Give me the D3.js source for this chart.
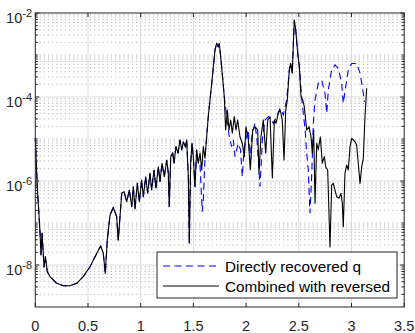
<!DOCTYPE html>
<html><head><meta charset="utf-8">
<script src="https://cdn.jsdelivr.net/npm/d3@7"></script>
<style>body{margin:0;background:#fff} svg{display:block}</style>
</head><body><svg id="c" width="415" height="333"></svg>
<script>
// ---- data ----
const xTicks = [0, 0.5, 1, 1.5, 2, 2.5, 3, 3.5];
const xTickLabels = ["0", "0.5", "1", "1.5", "2", "2.5", "3", "3.5"];
const yLabelExps = [-8, -6, -4, -2];
const seriesNames = ["Directly recovered q", "Combined with reversed"];

const combinedX = [
 0,0.019,0.045,0.054,0.064,0.083,0.095,0.114,0.139,0.203,
 0.266,0.329,0.393,0.455,0.519,0.583,0.620,0.645,0.664,0.683,
 0.709,0.740,0.772,0.787,0.820,0.842,0.867,0.892,0.915,0.930,
 0.946,0.968,0.987,1.009,1.025,1.047,1.066,1.088,1.104,1.126,
 1.145,1.167,1.183,1.202,1.224,1.247,1.262,1.271,1.285,1.304,
 1.316,1.335,1.354,1.373,1.389,1.404,1.423,1.436,1.452,1.461,
 1.474,1.487,1.499,1.515,1.531,1.546,1.563,1.579,1.594,1.610,
 1.641,1.674,1.705,1.721,1.736,1.746,1.768,1.793,1.806,1.822,
 1.838,1.854,1.869,1.888,1.904,1.920,1.942,1.964,1.983,1.999,
 2.021,2.040,2.063,2.084,2.110,2.122,2.141,2.163,2.186,2.205,
 2.227,2.249,2.268,2.284,2.305,2.324,2.343,2.360,2.376,2.391,
 2.410,2.423,2.438,2.457,2.471,2.490,2.505,2.521,2.537,2.552,
 2.575,2.597,2.616,2.628,2.641,2.654,2.670,2.685,2.704,2.723,
 2.742,2.755,2.774,2.796,2.812,2.827,2.860,2.881,2.900,2.913,
 2.922,2.938,2.954,2.970,2.986,3.002,3.033,3.049,3.064,3.081,
 3.097,3.112,3.128,3.144];
const combinedQ = [
 1.06e-5,7.3e-7,5.8e-8,1.73e-8,5.8e-8,8.9e-9,1.58e-8,6.9e-9,5.3e-9,3.66e-9,
 3.21e-9,3.21e-9,3.66e-9,5.3e-9,9.1e-9,1.9e-8,2.83e-8,1.9e-8,6.3e-9,3.9e-8,
 1.55e-7,2.34e-7,1.41e-7,3.9e-8,5.1e-7,5.6e-7,3.2e-7,6.1e-7,2.44e-7,7.3e-7,
 2.15e-7,8.8e-7,3.2e-7,1.06e-6,4.2e-7,1.26e-6,5.1e-7,1.52e-6,6.1e-7,1.83e-6,
 6.7e-7,2.19e-6,9.6e-7,2.64e-6,1.26e-6,3.16e-6,1.52e-6,2.44e-7,3.8e-6,4.6e-6,
 2.64e-6,6.6e-6,4.6e-6,9.5e-6,5.5e-6,8.6e-6,6.6e-6,9.5e-6,1.26e-6,3.3e-8,
 2.64e-6,7.9e-6,3.8e-6,7.3e-7,5.5e-6,2.64e-6,4.6e-6,1.83e-6,6.6e-6,3.47e-6,
 3.4e-5,2.12e-4,1.32e-3,1.9e-3,1.58e-3,1.9e-3,5.3e-4,1.02e-4,1.64e-5,4.9e-5,
 1.64e-5,2.83e-5,1.37e-5,3.4e-5,1.64e-5,2.83e-5,1.13e-5,7.9e-6,3.8e-6,1.96e-5,
 9.5e-6,1.83e-6,1.64e-5,1.96e-5,1.64e-5,1.52e-6,1.13e-5,2.83e-5,4.6e-6,2.83e-5,
 3.4e-5,1.18e-6,2.83e-5,2.37e-5,4.1e-5,4.9e-5,2.83e-5,3.16e-6,4.9e-5,8.5e-5,
 4.4e-4,6.3e-4,3.67e-4,6.8e-3,3.94e-3,1.1e-3,5.3e-4,1.02e-4,8.5e-5,5.9e-5,
 1.64e-5,1.96e-5,1.13e-5,4.6e-6,1.64e-5,2.94e-7,7.9e-6,5.5e-6,1.13e-5,2.64e-6,
 3.8e-6,2.19e-6,1.83e-6,2.68e-8,8.0e-7,8.8e-7,4.2e-7,3.9e-7,5.1e-7,2.94e-7,
 8.2e-8,1.52e-6,2.4e-6,1.83e-6,6.6e-6,1.04e-5,8.6e-6,7.2e-6,2.64e-6,8.8e-7,
 2.19e-6,3.47e-6,3.4e-5,1.61e-4];

const directX = [
 0,0.019,0.045,0.054,0.064,0.083,0.095,0.114,0.139,0.203,
 0.266,0.329,0.393,0.455,0.519,0.583,0.620,0.645,0.664,0.683,
 0.709,0.740,0.772,0.787,0.820,0.842,0.867,0.892,0.915,0.930,
 0.946,0.968,0.987,1.009,1.025,1.047,1.066,1.088,1.104,1.126,
 1.145,1.167,1.183,1.202,1.224,1.247,1.262,1.271,1.285,1.304,
 1.316,1.335,1.354,1.373,1.389,1.404,1.423,1.436,1.452,1.461,
 1.474,1.487,1.499,1.515,1.531,1.546,1.563,1.584,1.594,1.610,
 1.641,1.674,1.705,1.721,1.736,1.746,1.768,1.793,1.816,1.838,
 1.863,1.879,1.895,1.926,1.947,1.964,1.980,1.996,2.021,2.037,
 2.056,2.084,2.103,2.132,2.154,2.179,2.211,2.227,2.258,2.290,
 2.322,2.353,2.385,2.410,2.423,2.438,2.457,2.471,2.490,2.505,
 2.529,2.560,2.575,2.590,2.606,2.622,2.638,2.654,2.685,2.717,
 2.749,2.765,2.780,2.812,2.844,2.875,2.907,2.922,2.945,2.970,
 3.002,3.049,3.081,3.103,3.124];
const directQ = [
 1.06e-5,7.3e-7,5.8e-8,1.73e-8,5.8e-8,8.9e-9,1.58e-8,6.9e-9,5.3e-9,3.66e-9,
 3.21e-9,3.21e-9,3.66e-9,5.3e-9,9.1e-9,1.9e-8,2.83e-8,1.9e-8,6.3e-9,3.9e-8,
 1.55e-7,2.34e-7,1.41e-7,3.9e-8,5.1e-7,5.6e-7,3.2e-7,6.1e-7,2.44e-7,7.3e-7,
 2.15e-7,8.8e-7,3.2e-7,1.06e-6,4.2e-7,1.26e-6,5.1e-7,1.52e-6,6.1e-7,1.83e-6,
 6.7e-7,2.19e-6,9.6e-7,2.64e-6,1.26e-6,3.16e-6,1.52e-6,2.44e-7,3.8e-6,4.6e-6,
 2.64e-6,6.6e-6,4.6e-6,9.5e-6,5.5e-6,8.6e-6,6.6e-6,9.5e-6,1.26e-6,3.3e-8,
 2.64e-6,7.9e-6,3.8e-6,7.3e-7,5.5e-6,2.64e-6,2.4e-6,1.86e-7,3.5e-7,3.8e-6,
 3.4e-5,2.12e-4,1.32e-3,1.9e-3,1.58e-3,1.9e-3,5.3e-4,1.02e-4,3.4e-5,1.24e-5,
 6.6e-6,9.5e-6,3.8e-6,7.9e-6,5.5e-6,1.26e-6,5.5e-6,9.5e-6,1.64e-5,3.16e-6,
 1.24e-5,2.4e-5,9.5e-6,7.3e-7,9.5e-6,2.83e-5,3.4e-5,3.16e-5,2.37e-5,3.4e-5,
 5.4e-5,3.7e-5,8.5e-5,4.4e-4,6.3e-4,3.67e-4,6.8e-3,3.94e-3,1.1e-3,5.3e-4,
 8.5e-5,1.64e-5,4.6e-6,1.83e-6,1.7e-7,1.26e-6,2.37e-5,8.5e-5,2.12e-4,2.54e-4,
 1.2e-4,4.1e-5,1.47e-4,4.4e-4,5.8e-4,4.8e-4,2.12e-4,7.1e-5,1.76e-4,4.4e-4,
 6.3e-4,6.3e-4,3.7e-4,1.76e-4,7.7e-5];

// ---- layout ----
const L = 35.3, R = 404.2, T = 13, B = 307;
const FONT = "'Liberation Sans', Arial, Helvetica, sans-serif";
const AX = "#262626";

const x = d3.scaleLinear().domain([0, 3.5]).range([L, R]);
const y = d3.scaleLog().domain([1e-9, 1e-2]).range([B, T]);
const svg = d3.select("#c");

const allLogTicks = y.ticks();
const majorVals = yLabelExps.map(e => Math.pow(10, e));
const isMajor = v => majorVals.some(m => Math.abs(Math.log10(v) - Math.log10(m)) < 1e-6);
const minorVals = allLogTicks.filter(v => !isMajor(v) && v > 1e-9 && v < 1e-2);

// minor grid (dotted)
svg.append("g").selectAll("line").data(minorVals).join("line")
  .attr("x1", L).attr("x2", R)
  .attr("y1", d => y(d)).attr("y2", d => y(d))
  .attr("stroke", "#b0b0b0").attr("stroke-width", 0.9)
  .attr("stroke-dasharray", "1.2,3");

// major grid
svg.append("g").selectAll("line").data(majorVals.filter(v => v < 1e-2)).join("line")
  .attr("x1", L).attr("x2", R)
  .attr("y1", d => y(d)).attr("y2", d => y(d))
  .attr("stroke", "#dcdcdc").attr("stroke-width", 1);
svg.append("g").selectAll("line").data(xTicks.filter(t => t > 0 && t < 3.5)).join("line")
  .attr("x1", d => x(d)).attr("x2", d => x(d))
  .attr("y1", T).attr("y2", B)
  .attr("stroke", "#dcdcdc").attr("stroke-width", 1);

// curves
const line = d3.line().x(d => x(d[0])).y(d => y(d[1]));
const directData = directX.map((v, i) => [v, directQ[i]]);
const combinedData = combinedX.map((v, i) => [v, combinedQ[i]]);

svg.append("path").datum(directData).attr("d", line)
  .attr("fill", "none").attr("stroke", "#0000ff").attr("stroke-width", 1.1)
  .attr("stroke-dasharray", "7,4.5");
svg.append("path").datum(combinedData).attr("d", line)
  .attr("fill", "none").attr("stroke", "#000").attr("stroke-width", 1.1)
  .attr("stroke-linejoin", "round");

// axes box
svg.append("rect").attr("x", L).attr("y", T).attr("width", R - L).attr("height", B - T)
  .attr("fill", "none").attr("stroke", AX).attr("stroke-width", 1);

// ticks
const tk = svg.append("g").attr("stroke", AX).attr("stroke-width", 1);
xTicks.forEach(t => {
  tk.append("line").attr("x1", x(t)).attr("x2", x(t)).attr("y1", B).attr("y2", B - 4);
  tk.append("line").attr("x1", x(t)).attr("x2", x(t)).attr("y1", T).attr("y2", T + 4);
});
majorVals.forEach(v => {
  tk.append("line").attr("x1", L).attr("x2", L + 4).attr("y1", y(v)).attr("y2", y(v));
  tk.append("line").attr("x1", R).attr("x2", R - 4).attr("y1", y(v)).attr("y2", y(v));
});
minorVals.forEach(v => {
  tk.append("line").attr("x1", L).attr("x2", L + 2.5).attr("y1", y(v)).attr("y2", y(v));
  tk.append("line").attr("x1", R).attr("x2", R - 2.5).attr("y1", y(v)).attr("y2", y(v));
});

// x tick labels
svg.append("g").selectAll("text").data(xTicks).join("text")
  .attr("x", d => x(d)).attr("y", 331)
  .attr("text-anchor", "middle")
  .attr("font-family", FONT).attr("font-size", 14.5).attr("fill", AX)
  .text((d, i) => xTickLabels[i]);

// y tick labels
yLabelExps.forEach(e => {
  const yy = y(Math.pow(10, e));
  const t = svg.append("text").attr("x", 32).attr("y", yy + 9.7)
    .attr("text-anchor", "end").attr("font-family", FONT).attr("fill", AX);
  t.append("tspan").attr("font-size", 14.5).text("10");
  t.append("tspan").attr("font-size", 11).attr("dy", -6.2).text(String(e));
});

// legend
const lg = svg.append("g");
lg.append("rect").attr("x", 157).attr("y", 252).attr("width", 240).attr("height", 46)
  .attr("fill", "#fff").attr("stroke", AX).attr("stroke-width", 1);
const styles = [
  {stroke: "#0000ff", dash: "7,4.5"},
  {stroke: "#000", dash: null}
];
seriesNames.forEach((name, i) => {
  const yy = 266 + i * 20;
  const ln = lg.append("line").attr("x1", 163).attr("x2", 219).attr("y1", yy).attr("y2", yy)
    .attr("stroke", styles[i].stroke).attr("stroke-width", 1.1);
  if (styles[i].dash) ln.attr("stroke-dasharray", styles[i].dash);
  lg.append("text").attr("x", 225).attr("y", yy + 5.5)
    .attr("font-family", FONT).attr("font-size", 15.3).attr("fill", "#000").text(name);
});
</script></body></html>
